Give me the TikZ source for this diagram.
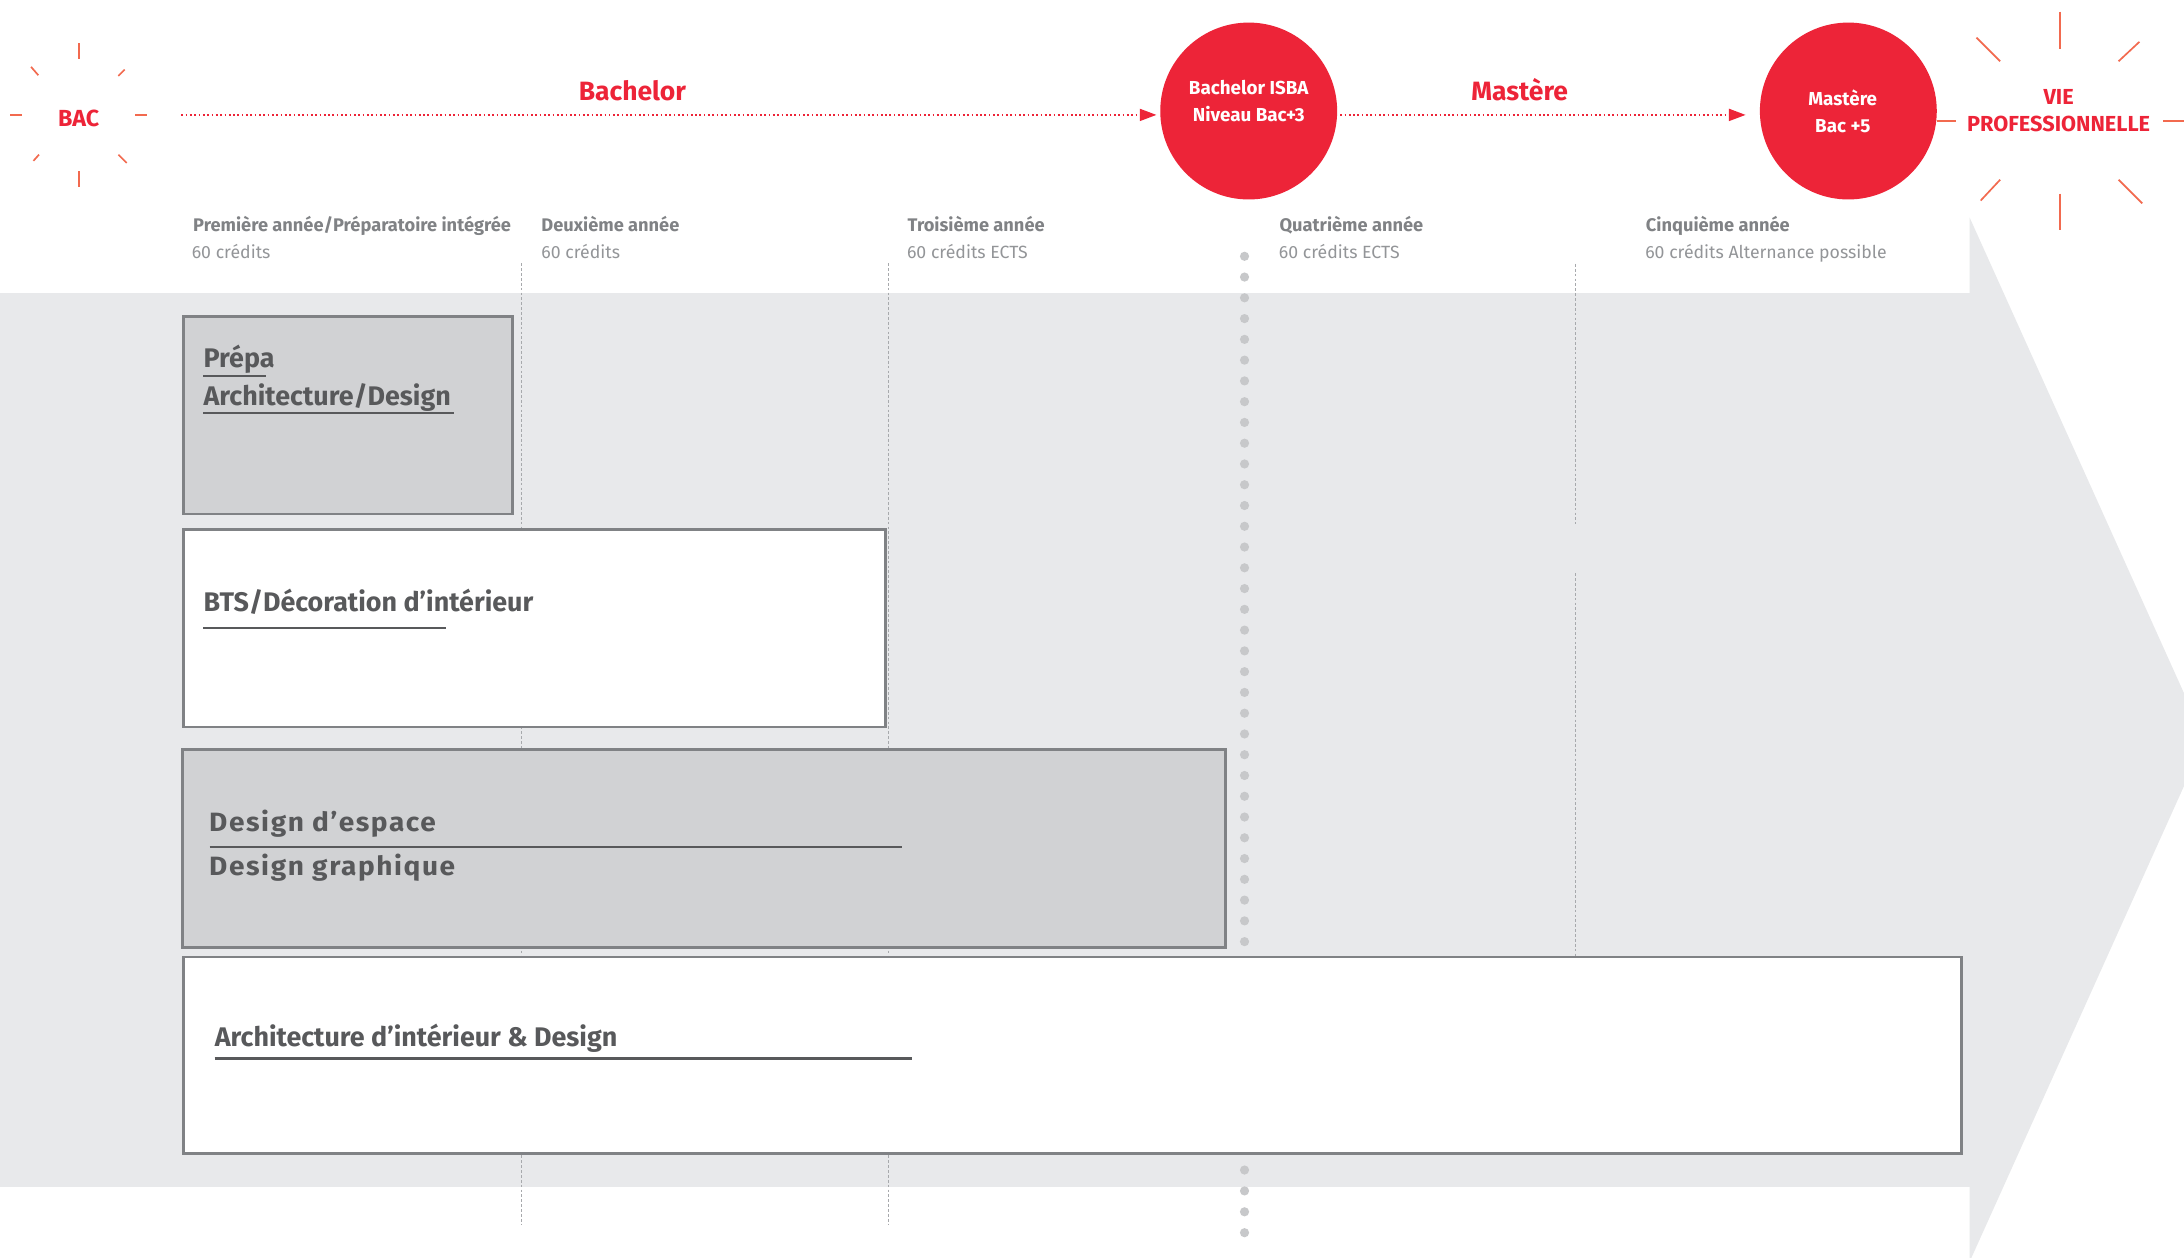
\documentclass[tikz,border=0pt]{standalone}
\usepackage{fontspec}
\setmainfont{Fira Sans}
\newfontfamily\widefont{Fira Sans}[FakeStretch=1.06,LetterSpace=6]
\usetikzlibrary{arrows.meta}
\definecolor{isred}{HTML}{ED2438}
\definecolor{band}{HTML}{E8E9EB}
\definecolor{boxgrey}{HTML}{D1D2D4}
\definecolor{boxline}{HTML}{808285}
\definecolor{txtdark}{HTML}{58595B}
\definecolor{hdr}{HTML}{808285}
\definecolor{cred}{HTML}{939598}
\definecolor{dotc}{HTML}{C7C8CA}
\definecolor{raycol}{HTML}{F26A4F}
\definecolor{vline}{HTML}{A7A9AC}
\begin{document}
\begin{tikzpicture}[x=1pt,y=-1pt,
  hdrtitle/.style={anchor=base west,inner sep=0,text=hdr,font=\fontsize{13.1}{15}\selectfont\bfseries},
  hdrcred/.style={anchor=base west,inner sep=0,text=cred,font=\fontsize{12.7}{15}\selectfont},
  boxtitle/.style={anchor=base west,inner sep=0,text=txtdark,font=\fontsize{19.3}{22}\selectfont\bfseries},
  widetitle/.style={anchor=base west,inner sep=0,text=txtdark,font=\fontsize{19}{22}\widefont\bfseries},
  progbox/.style={draw=boxline,line width=2pt,inner sep=0},
  redlbl/.style={anchor=base,inner sep=0,text=isred,font=\fontsize{19}{22}\selectfont\bfseries},
  circtxt/.style={anchor=base,inner sep=0,text=white,font=\fontsize{13.5}{16}\selectfont\bfseries},
  viet/.style={anchor=base,inner sep=0,text=isred,font=\fontsize{15.6}{18}\selectfont\bfseries},
  bigcirc/.style={circle,fill=isred,minimum size=127pt,inner sep=0},
  raystyle/.style={draw=raycol,line width=1.2pt},
  yearline/.style={draw=vline,line width=0.6pt,dash pattern=on 2pt off 1.5pt},
  reddots/.style={draw=isred,line width=1.6pt,dash pattern=on 1.2pt off 1.9pt,
     -{Triangle[length=12pt,width=8.5pt]}},
  uline/.style={draw=txtdark,line width=1.6pt}]
\useasboundingbox (0,0) rectangle (1568,903);
\clip (0,0) rectangle (1568,903);
\fill[white] (0,0) rectangle (1568,903);
% big grey arrow
\fill[band] (0,210) rectangle (1414,852);
\fill[band] (1414,156) -- (1583,531) -- (1414,906) -- cycle;
% year separators
\draw[yearline] (374.6,189) -- (374.6,879);
\draw[yearline] (638,189) -- (638,879);
\draw[yearline] (1131,189.5) -- (1131,376);
\draw[yearline] (1131,411.6) -- (1131,686);
% dots column
\foreach \i in {0,...,33} \fill[dotc] (893.5,184+\i*14.91) circle (3.3);
\foreach \yy in {840,855,870,885} \fill[dotc] (893.5,\yy) circle (3.3);
% header texts
\node[hdrtitle] (y1t) at (138.5,166) {Première année/Préparatoire intégrée};
\node[hdrcred] (y1c) at (137.5,185.5) {60 crédits};
\node[hdrtitle] (y2t) at (388.5,166) {Deuxième année};
\node[hdrcred] (y2c) at (388.5,185.5) {60 crédits};
\node[hdrtitle] (y3t) at (651.5,166) {Troisième année};
\node[hdrcred] (y3c) at (651,185.5) {60 crédits ECTS};
\node[hdrtitle] (y4t) at (918.5,166) {Quatrième année};
\node[hdrcred] (y4c) at (918,185.5) {60 crédits ECTS};
\node[hdrtitle] (y5t) at (1181.5,166) {Cinquième année};
\node[hdrcred] (y5c) at (1181,185.5) {60 crédits Alternance possible};
% programme boxes
\node[progbox,fill=boxgrey,minimum width=236pt,minimum height=142pt] (prepa) at (250,298) {};
\node[progbox,fill=white,minimum width=504pt,minimum height=142pt] (bts) at (384,451) {};
\node[progbox,fill=boxgrey,minimum width=749pt,minimum height=142pt] (design) at (505.5,609) {};
\node[progbox,fill=white,minimum width=1276pt,minimum height=141pt] (archi) at (770,757.5) {};
% box texts
\node[boxtitle] (prepa1) at (146,263.5) {Prépa};
\node[boxtitle] (prepa2) at (146,290.8) {Architecture/Design};
\draw[uline] (146,269.7) -- (191,269.7);
\draw[uline] (146,296.5) -- (325.6,296.5);
\node[boxtitle] (bts1) at (146,439) {BTS/Décoration d\char"0027 intérieur};
\draw[uline] (146,451) -- (320,451);
\node[widetitle] (des1) at (150,597) {Design d’espace};
\draw[uline] (150.5,608) -- (647.6,608);
\node[widetitle] (des2) at (150,628.7) {Design graphique};
\node[boxtitle] (arch1) at (154,751) {Architecture d’intérieur \& Design};
\draw[uline] (154,760) -- (654.7,760);
% top timeline
\coordinate (lineY) at (0,82.5);
\node[inner sep=0,minimum width=147pt,minimum height=12pt,text=isred,font=\fontsize{16.7}{18}\selectfont\bfseries] (bac) at (56.5,84.7) {BAC};
\node[bigcirc] (c1) at (896.5,79.7) {};
\node[bigcirc] (c2) at (1327,79.7) {};
\node[circtxt] (c1a) at (896.5,67.7) {Bachelor ISBA};
\node[circtxt] (c1b) at (896.5,86.9) {Niveau Bac+3};
\node[circtxt] (c2a) at (1323,76) {Mastère};
\node[circtxt] (c2b) at (1323,95) {Bac +5};
\node[redlbl] (lbach) at (454,71.8) {Bachelor};
\node[redlbl] (lmast) at (1091,71.8) {Mastère};
\node[viet] (vie1) at (1478,74.7) {VIE};
\node[viet] (vie2) at (1478,94.5) {PROFESSIONNELLE};
\draw[reddots,shorten >=2.5pt] (bac.east |- lineY) -- (c1.west |- lineY);
\draw[reddots,shorten <=2pt,shorten >=10pt] (c1.east |- lineY) -- (c2.west |- lineY);
% rays around BAC
\draw[raystyle] (56.6,31) -- (56.6,42);
\draw[raystyle] (56.6,123) -- (56.6,134);
\draw[raystyle] (7.5,82.5) -- (16,82.5);
\draw[raystyle] (97,82.5) -- (105.5,82.5);
\draw[raystyle] (22.3,48) -- (27.5,54);
\draw[raystyle] (89.5,50) -- (85,54.5);
\draw[raystyle] (28,111) -- (24,115.5);
\draw[raystyle] (85,111) -- (91,117);
% rays around VIE PROFESSIONNELLE
\draw[raystyle] (1479,8.4) -- (1479,35);
\draw[raystyle] (1479,139) -- (1479,165);
\draw[raystyle] (1390.5,87) -- (1404,87);
\draw[raystyle] (1553,87) -- (1568,87);
\draw[raystyle] (1419,27) -- (1436,44);
\draw[raystyle] (1536,30) -- (1521,44);
\draw[raystyle] (1436,129) -- (1422,144);
\draw[raystyle] (1521,129) -- (1538,146);
\end{tikzpicture}
\end{document}
